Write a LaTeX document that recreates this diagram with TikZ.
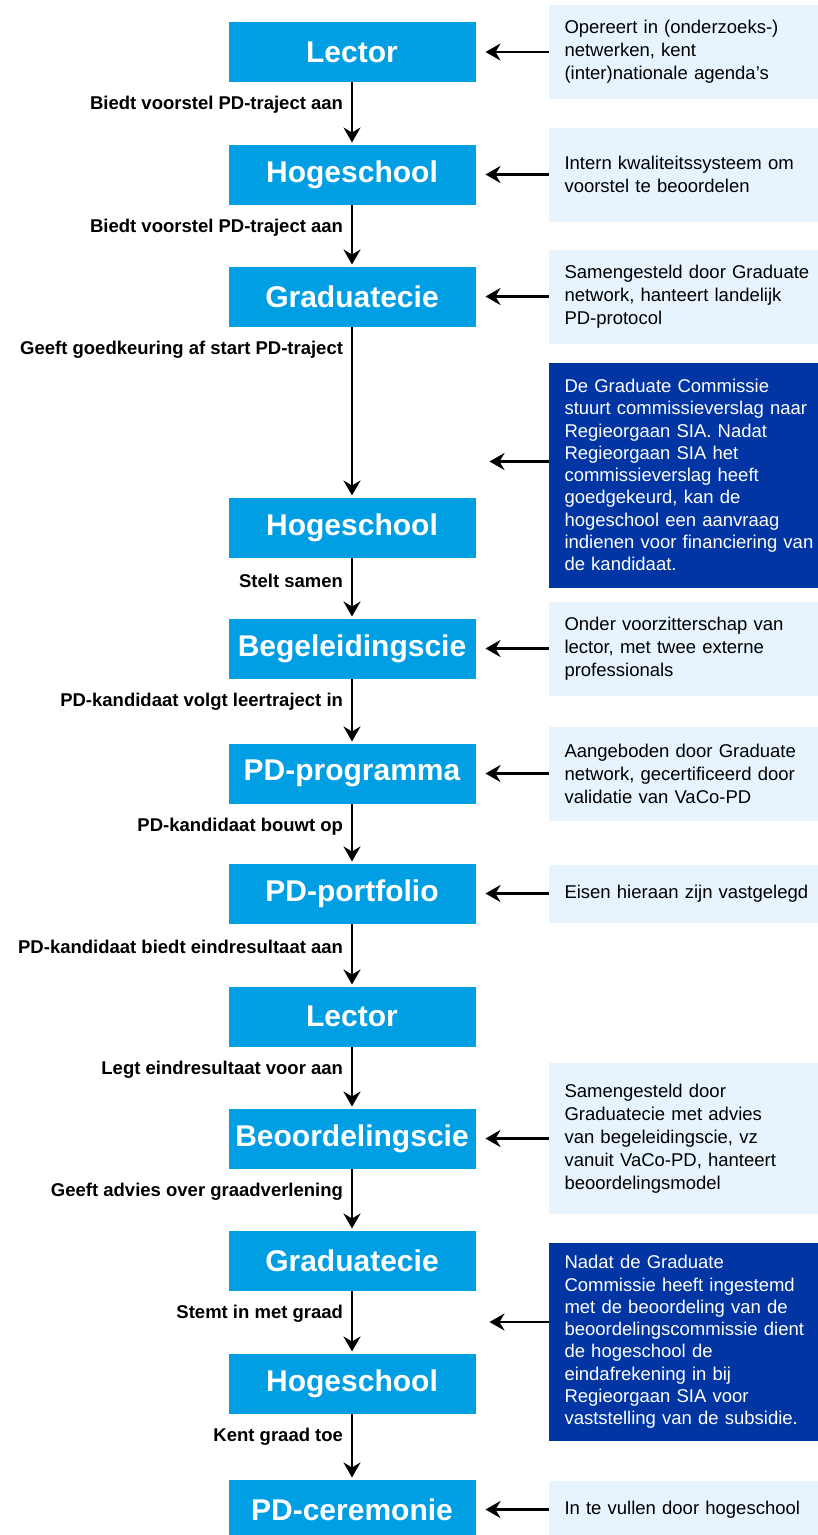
\documentclass[tikz,border=0pt]{standalone}
\usepackage{fontspec}
\setmainfont{Liberation Sans}
\usetikzlibrary{positioning, arrows.meta, calc}

\definecolor{stageblue}{RGB}{0,159,227}
\definecolor{notelight}{RGB}{231,244,253}
\definecolor{notedark}{RGB}{0,53,163}

\begin{document}
\begin{tikzpicture}[> = {Stealth[length=15pt, width=17pt, inset=5pt]}, % arrow head style
                shorten > = 2pt, % don't touch arrow head to node
                x = 1pt, y = -1pt, % pixel grid, y goes down
                node distance = 62pt and 73pt, % distance between nodes
                line width = 2.8pt % line style
            ]

            \tikzstyle{every node}=[outer sep = 0pt]
            \tikzstyle{stage}=[fill = stageblue, text = white, inner sep = 0pt,
            minimum width = 247pt, minimum height = 60pt,
            font = \fontsize{30}{36}\selectfont\bfseries]
            \tikzstyle{note}=[fill = notelight, anchor = west, align = left,
            text width = 256pt, inner xsep = 16pt, inner ysep = 12pt,
            minimum height = 94pt, font = \fontsize{18.5}{23}\selectfont]
            \tikzstyle{remark}=[note, fill = notedark, text = white,
            font = \fontsize{18.5}{22.3}\selectfont]
            \tikzstyle{lbl}=[at start, anchor = east, inner sep = 0pt,
            xshift = -9pt, yshift = -23pt, font = \fontsize{18.5}{22}\selectfont\bfseries]

            \useasboundingbox (0,0) rectangle (818,1535);

            % main chain
            \node[stage] (n1) at (352,52) {Lector};
            \node[stage] (n2) [below=62.5pt of n1] {Hogeschool};
            \node[stage] (n3) [below=of n2] {Graduatecie};
            \node[stage] (n4) [below=171pt of n3] {Hogeschool};
            \node[stage] (n5) [below=61pt of n4] {Begeleidingscie};
            \node[stage] (n6) [below=65pt of n5] {PD-programma};
            \node[stage] (n7) [below=60pt of n6] {PD-portfolio};
            \node[stage] (n8) [below=63pt of n7] {Lector};
            \node[stage] (n9) [below=of n8] {Beoordelingscie};
            \node[stage] (n10) [below=of n9] {Graduatecie};
            \node[stage] (n11) [below=63pt of n10] {Hogeschool};
            \node[stage] (n12) [below=66pt of n11] {PD-ceremonie};

            % notes on the right
            \node[note] (r1) [right=of n1] {Opereert in (onderzoeks-)\\
            netwerken, kent\\ (inter)nationale agenda’s};
            \node[note] (r2) [right=of n2] {Intern kwaliteitssysteem om\\
            voorstel te beoordelen};
            \node[note] (r3) [right=of n3] {Samengesteld door Graduate\\
            network, hanteert landelijk\\ PD-protocol};
            \node[remark, minimum height = 225pt] (d4) [right=of n4, yshift=52.5pt] {De Graduate Commissie\\
            stuurt commissieverslag naar\\ Regieorgaan SIA. Nadat\\
            Regieorgaan SIA het\\ commissieverslag heeft\\ goedgekeurd, kan de\\
            hogeschool een aanvraag\\ indienen voor financiering van\\ de kandidaat.};
            \node[note] (r5) [right=of n5] {Onder voorzitterschap van\\
            lector, met twee externe\\ professionals};
            \node[note] (r6) [right=of n6] {Aangeboden door Graduate\\
            network, gecertificeerd door\\ validatie van VaCo-PD};
            \node[note, minimum height = 58pt] (r7) [right=of n7] {Eisen hieraan zijn vastgelegd};
            \node[note, minimum height = 151pt] (r9) [right=of n9] {Samengesteld door\\
            Graduatecie met advies\\ van begeleidingscie, vz\\
            vanuit VaCo-PD, hanteert\\ beoordelingsmodel};
            \node[remark] (d11) [right=of n11, yshift=41.5pt] {Nadat de Graduate\\
            Commissie heeft ingestemd\\ met de beoordeling van de\\
            beoordelingscommissie dient\\ de hogeschool de\\
            eindafrekening in bij\\ Regieorgaan SIA voor\\
            vaststelling van de subsidie.};
            \node[note, minimum height = 58pt] (r12) [right=of n12] {In te vullen door hogeschool};

            \coordinate (t4) at ($(n4.north east)+(12pt,36pt)$);
            \coordinate (t11) at ($(n10.south east)!0.5!(n11.north east)+(12pt,0pt)$);

            % steps
            \path[->] (n1) edge node[lbl] {Biedt voorstel PD-traject aan} (n2);
            \path[->] (n2) edge node[lbl] {Biedt voorstel PD-traject aan} (n3);
            \path[->] (n3) edge node[lbl] {Geeft goedkeuring af start PD-traject} (n4);
            \path[->] (n4) edge node[lbl] {Stelt samen} (n5);
            \path[->] (n5) edge node[lbl] {PD-kandidaat volgt leertraject in} (n6);
            \path[->] (n6) edge node[lbl] {PD-kandidaat bouwt op} (n7);
            \path[->] (n7) edge node[lbl] {PD-kandidaat biedt eindresultaat aan} (n8);
            \path[->] (n8) edge node[lbl] {Legt eindresultaat voor aan} (n9);
            \path[->] (n9) edge node[lbl] {Geeft advies over graadverlening} (n10);
            \path[->] (n10) edge node[lbl] {Stemt in met graad} (n11);
            \path[->] (n11) edge node[lbl] {Kent graad toe} (n12);

            % input from the notes
            \path[->, shorten > = 10pt] (r1) edge (n1); \path[->, shorten > = 10pt]
            (r2) edge (n2); \path[->, shorten > = 10pt] (r3) edge (n3);
            \path[->] (d4.west |- t4) edge (t4); \path[->, shorten > = 10pt] (r5)
            edge (n5); \path[->, shorten > = 10pt] (r6) edge (n6); \path[->,
            shorten > = 10pt] (r7) edge (n7); \path[->, shorten > = 10pt] (r9)
            edge (n9); \path[->] (d11.west |- t11) edge (t11); \path[->, shorten
            > = 10pt] (r12) edge (n12);
\end{tikzpicture}
\end{document}
